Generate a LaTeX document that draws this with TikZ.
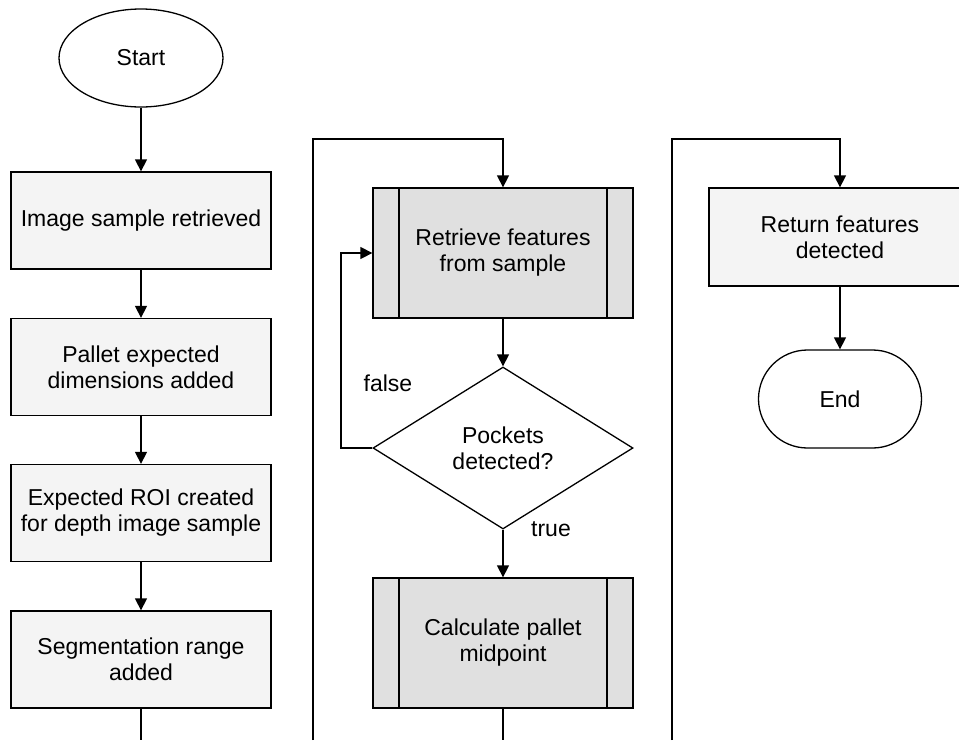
\documentclass[tikz,border=0pt]{standalone}
\usepackage{fontspec}
\setmainfont{Liberation Sans}
\usepackage{tikz}
\usetikzlibrary{shapes.geometric,arrows.meta}
\usepackage{xcolor}
\definecolor{boxfill}{HTML}{F4F4F4}
\definecolor{subfill}{HTML}{E0E0E0}

\begin{document}
\begin{tikzpicture}[x=1pt, y=-1pt, line width=1.3pt,
		every node/.style={font=\fontsize{23}{26}\selectfont, align=center, inner sep=0pt},
		stepbox/.style={draw, fill=boxfill, minimum width=260pt, minimum height=97pt},
		subproc/.style={draw, fill=subfill, minimum width=260pt, minimum height=130pt,
			path picture={
				\draw ([xshift=26pt]path picture bounding box.north west) -- ([xshift=26pt]path picture bounding box.south west);
				\draw ([xshift=-26pt]path picture bounding box.north east) -- ([xshift=-26pt]path picture bounding box.south east);
			}},
		decide/.style={draw, fill=white, diamond, aspect=1.6, minimum width=260pt, minimum height=162pt},
		flow/.style={-{Triangle[length=12pt, width=12pt]}}]
		\useasboundingbox (0,0) rectangle (959,740);

		% first column
		\node[draw, ellipse, minimum width=164pt, minimum height=98pt] (start) at (141,58) {Start};
		\node[stepbox] (img) at (141,220.5) {Image sample retrieved};
		\node[stepbox] (pallet) at (141,367) {Pallet expected\\dimensions added};
		\node[stepbox] (roi) at (141,513) {Expected ROI created\\for depth image sample};
		\node[stepbox] (seg) at (141,659.5) {Segmentation range\\added};
		\coordinate (out1) at (141,740);

		\draw[flow] (start) -- (img);
		\draw[flow] (img) -- (pallet);
		\draw[flow] (pallet) -- (roi);
		\draw[flow] (roi) -- (seg);
		\draw (seg) -- (out1);

		% second column
		\coordinate (in2) at (313,740);
		\coordinate (top2) at (313,139);
		\node[subproc] (retr) at (503,253) {Retrieve features\\from sample};
		\node[decide] (dec) at (503,448) {Pockets\\detected?};
		\node[subproc] (calc) at (503,643) {Calculate pallet\\midpoint};
		\coordinate (back) at (341,448);
		\coordinate (out2) at (503,740);

		\draw[flow] (in2) -- (top2) -| (retr.north);
		\draw[flow] (retr) -- (dec);
		\draw[flow] (dec.west) -- (back) |- (retr.west);
		\draw[flow] (dec.south) -- (calc.north);
		\draw (calc) -- (out2);
		\node (lfalse) at (388,383) {false};
		\node (ltrue) at (551,529) {true};

		% third column
		\coordinate (in3) at (672,740);
		\coordinate (top3) at (672,139);
		\node[stepbox, minimum width=262pt, minimum height=98pt] (ret) at (840,237) {Return features\\detected};
		\node[draw, rounded corners=49pt, minimum width=163pt, minimum height=98pt] (finish) at (840,399) {End};

		\draw[flow] (in3) -- (top3) -| (ret.north);
		\draw[flow] (ret) -- (finish);
	\end{tikzpicture}
\end{document}
